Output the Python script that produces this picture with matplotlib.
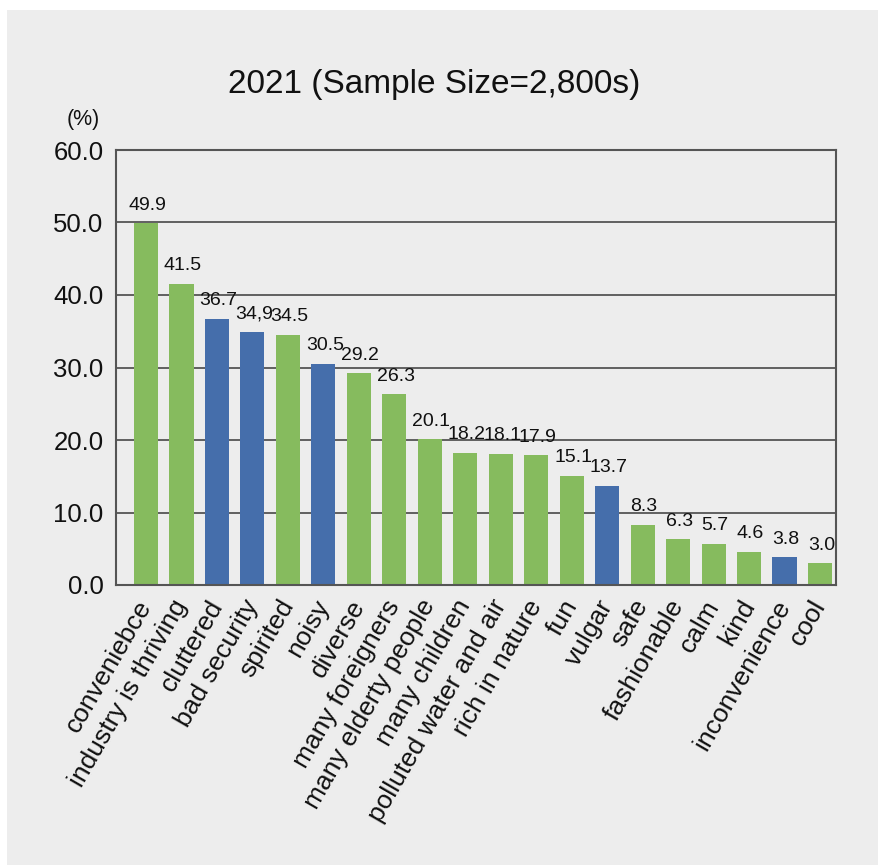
import matplotlib
matplotlib.use("Agg")
import matplotlib.pyplot as plt
from matplotlib.patches import Rectangle

plt.rcParams['font.family'] = ['Liberation Sans', 'DejaVu Sans']

categories = ["conveniebce", "industry is thriving", "cluttered", "bad security",
              "spirited", "noisy", "diverse", "many foreigners", "many elderty people",
              "many children", "polluted water and air", "rich in nature", "fun",
              "vulgar", "safe", "fashionable", "calm", "kind", "inconvenience", "cool"]
values = [49.9, 41.5, 36.7, 34.9, 34.5, 30.5, 29.2, 26.3, 20.1, 18.2,
          18.1, 17.9, 15.1, 13.7, 8.3, 6.3, 5.7, 4.6, 3.8, 3.0]
value_labels = ["49.9", "41.5", "36.7", "34,9", "34.5", "30.5", "29.2", "26.3", "20.1", "18.2",
                "18.1", "17.9", "15.1", "13.7", "8.3", "6.3", "5.7", "4.6", "3.8", "3.0"]
negative = [False, False, True, True, False, True, False, False, False, False,
            False, False, False, True, False, False, False, False, True, False]
yticks = [0, 10, 20, 30, 40, 50, 60]
title = "2021 (Sample Size=2,800s)"

GREEN = "#86bb5e"
BLUE = "#456eab"
BG = "#ededed"
LINE = "#555555"

W, H = 879, 865
fig = plt.figure(figsize=(W / 100, H / 100), dpi=100)
fig.patch.set_facecolor("white")
fig.patches.append(Rectangle((7 / W, 0), 1, 1 - 10 / H, transform=fig.transFigure,
                             facecolor=BG, edgecolor="none", zorder=-10))

ax = fig.add_axes([116 / W, 1 - 585 / H, (836 - 116) / W, (585 - 150) / H])
ax.set_facecolor(BG)

x = list(range(len(categories)))
colors = [BLUE if n else GREEN for n in negative]
ax.bar(x, values, width=0.68, color=colors, zorder=3)

for xi, v, lab in zip(x, values, value_labels):
    ax.annotate(lab, (xi, v), xytext=(1, 7), textcoords="offset points",
                ha="center", va="bottom", fontsize=14, color="#111111", zorder=4)

ax.set_xlim(-0.846, 19.45)
ax.set_ylim(0, 60)
ax.set_yticks(yticks)
ax.set_yticklabels([f"{t:.1f}" for t in yticks], fontsize=18.5, color="#111111")
ax.tick_params(axis="y", length=0, pad=9)
ax.set_xticks(x)
ax.set_xticklabels(categories, rotation=60, ha="right", va="center",
                   rotation_mode="anchor", fontsize=19, color="#111111")
ax.tick_params(axis="x", length=0, pad=12)

for yv in yticks[1:-1]:
    ax.axhline(yv, color=LINE, lw=1.3, zorder=2)
for s in ax.spines.values():
    s.set_color(LINE)
    s.set_linewidth(1.5)
    s.set_zorder(5)

fig.text(434 / W, 1 - 85 / H, title, ha="center", va="center", fontsize=24, color="#111111")
fig.text(83 / W, 1 - 119 / H, "(%)", ha="center", va="center", fontsize=15.5, color="#111111")

fig.savefig("out.png", dpi=100, facecolor=fig.get_facecolor())
